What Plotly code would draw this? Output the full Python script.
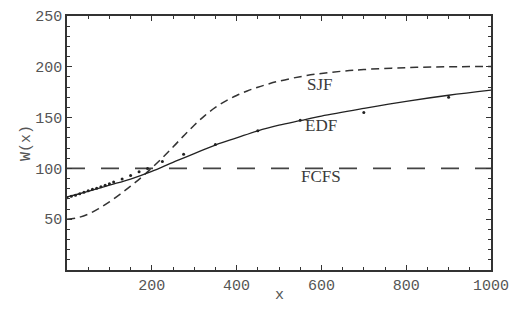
import plotly.graph_objects as go

# Curves
sjf_x = [0, 25, 50, 75, 100, 125, 150, 175, 200, 225, 250, 275, 300, 325, 350, 375, 400, 425, 450,
         475, 500, 550, 600, 650, 700, 800, 900, 1000]
sjf_y = [50, 51.5, 55, 60.5, 67, 74.5, 82.5, 91, 100.5, 110.5, 121, 132, 142.5, 152, 160, 166.5, 171.8,
         176.2, 179.9, 183.1, 185.9, 190.3, 193.5, 195.7, 197.3, 199.2, 200, 200.3]

edf_x = [0, 50, 100, 150, 200, 250, 300, 350, 400, 450, 500, 550, 600, 700, 800, 900, 1000]
edf_y = [72, 77.5, 83.5, 89.5, 97, 106, 114.5, 123, 130, 137, 142.5, 147, 151.5, 159, 166, 172, 177]

fcfs_x = [0, 1000]
fcfs_y = [100, 100]

sim_x = [0, 10, 20, 30, 40, 50, 60, 70, 80, 90, 100, 110, 130, 150, 170, 190, 225, 275, 350, 450, 550, 700, 900]
sim_y = [71, 72.5, 73.5, 75, 76.5, 78, 79.5, 80.5, 82, 83.5, 85, 86.5, 89.5, 93, 96.7, 100, 106.8, 114, 123.6, 137, 147.4, 155, 170]

x_ticks = [200, 400, 600, 800, 1000]
y_ticks = [50, 100, 150, 200, 250]

labels = ["SJF", "EDF", "FCFS"]
label_x = [597, 600, 600]
label_y = [183, 142.5, 92]

line_col = "#333333"
mono = dict(family="Liberation Mono", size=15, color="#555555")

fig = go.Figure()
fig.add_trace(go.Scatter(x=fcfs_x, y=fcfs_y, mode="lines",
                         line=dict(color="#444444", width=1.6, dash="18px,16px")))
fig.add_trace(go.Scatter(x=sjf_x, y=sjf_y, mode="lines", line_shape="spline",
                         line=dict(color="#333333", width=1.5, dash="8px,5px")))
fig.add_trace(go.Scatter(x=edf_x, y=edf_y, mode="lines", line_shape="spline",
                         line=dict(color="#222222", width=1.3)))
fig.add_trace(go.Scatter(x=sim_x, y=sim_y, mode="markers",
                         marker=dict(color="#222222", size=3)))

for t, x, y in zip(labels, label_x, label_y):
    fig.add_annotation(x=x, y=y, text=t, showarrow=False, xanchor="center", yanchor="middle",
                       font=dict(family="Liberation Serif", size=17, color="#3a3a3a"))

# x-axis title
fig.add_annotation(x=0.5, y=-0.1, xref="paper", yref="paper", text="x", showarrow=False,
                   xanchor="center", yanchor="middle", font=mono)

axis_common = dict(
    showgrid=False, zeroline=False, showline=True, linecolor=line_col, linewidth=1.5,
    mirror="ticks", ticks="inside", ticklen=5, tickwidth=1, tickcolor=line_col,
    tickfont=mono,
)

fig.update_layout(
    width=521, height=322,
    margin=dict(l=67, r=30, t=9, b=52),
    paper_bgcolor="white", plot_bgcolor="white",
    showlegend=False,
    xaxis=dict(range=[0, 1000], tickvals=x_ticks, ticktext=[str(v) for v in x_ticks],
               minor=dict(dtick=50, ticks="inside", ticklen=3, tickcolor=line_col),
               **axis_common),
    yaxis=dict(range=[0, 250], tickvals=y_ticks, ticktext=[str(v) for v in y_ticks],
               minor=dict(dtick=10, ticks="inside", ticklen=3, tickcolor=line_col),
               title=dict(text="W(x)", standoff=1, font=mono),
               **axis_common),
)

fig.write_html("out.html")
